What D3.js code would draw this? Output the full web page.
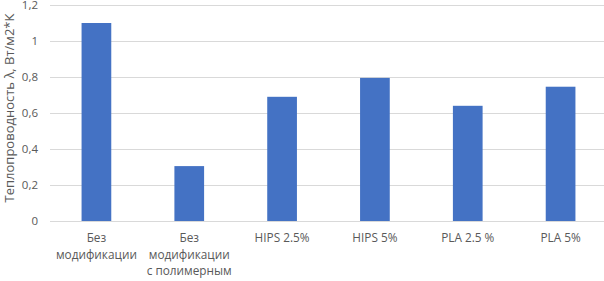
<!DOCTYPE html>
<html><head><meta charset="utf-8">
<script src="https://cdn.jsdelivr.net/npm/d3@7"></script>
<style>body{margin:0;background:#fff;} svg{display:block;}</style>
</head><body>
<svg id="c" width="604" height="281"></svg>
<script>
const categories = ["Без\nмодификации", "Без\nмодификации\nс полимерным", "HIPS 2.5%", "HIPS 5%", "PLA 2.5 %", "PLA 5%"];
const values = [1.10, 0.305, 0.69, 0.795, 0.64, 0.746];
const yTicks = [0, 0.2, 0.4, 0.6, 0.8, 1, 1.2];
const yTitle = "Теплопроводность λ, Вт/м2*К";

const svg = d3.select("#c");
const font = "'Open Sans', 'Noto Sans', sans-serif";
const x = d3.scaleBand().domain(categories).range([50, 607]).paddingInner(0.68).paddingOuter(0.34);
const y = d3.scaleLinear().domain([0, 1.2]).range([221, 5]);
const fmt = d => String(d).replace(".", ",");

svg.append("g").selectAll("line").data(yTicks).join("line")
  .attr("x1", 50).attr("x2", 607)
  .attr("y1", d => Math.round(y(d)) + 0.5).attr("y2", d => Math.round(y(d)) + 0.5)
  .attr("stroke", "#d9d9d9").attr("stroke-width", 1);

const yAxis = d3.axisLeft(y).tickValues(yTicks).tickFormat(fmt).tickSize(0).tickPadding(0);
const ga = svg.append("g").attr("transform", "translate(38,0)").call(yAxis);
ga.select(".domain").remove();
ga.selectAll("text").attr("font-family", font).attr("font-size", 11.5).attr("fill", "#595959");

svg.append("g").selectAll("rect").data(values).join("rect")
  .attr("x", (d, i) => x(categories[i])).attr("width", x.bandwidth())
  .attr("y", d => y(d)).attr("height", d => y(0) - y(d))
  .attr("fill", "#4472c4");

const xl = svg.append("g");
categories.forEach(c => {
  const t = xl.append("text").attr("text-anchor", "middle")
    .attr("font-family", font).attr("font-size", 11.8).attr("fill", "#595959");
  c.split("\n").forEach((line, j) => {
    t.append("tspan").attr("x", x(c) + x.bandwidth() / 2).attr("y", 242 + j * 16.5).text(line);
  });
});

svg.append("text").attr("transform", "translate(14,108) rotate(-90)")
  .attr("text-anchor", "middle").attr("font-family", font).attr("font-size", 13)
  .attr("fill", "#595959").text(yTitle);
</script>
</body></html>
